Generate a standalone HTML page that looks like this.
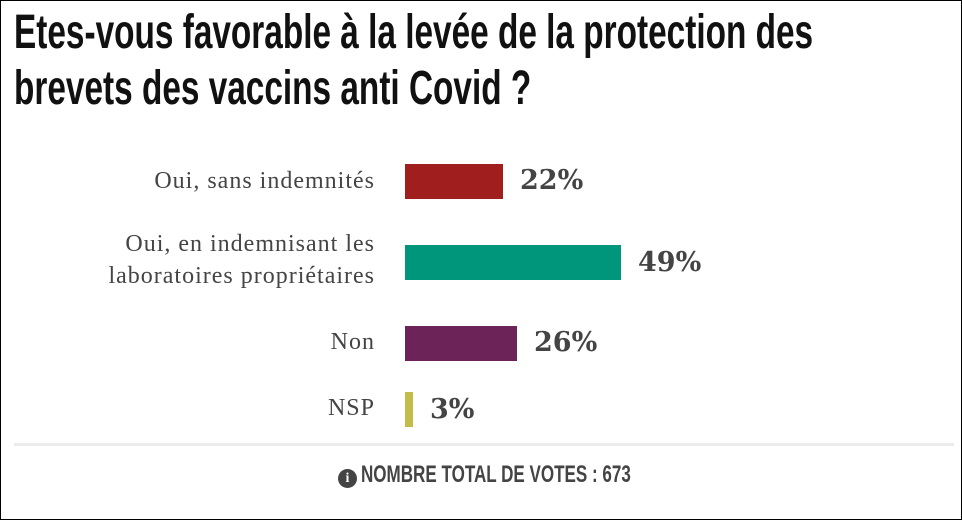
<!DOCTYPE html>
<html><head><meta charset="utf-8"><style>
body{margin:0;width:962px;height:520px;overflow:hidden;background:#fff;}
.frame{position:absolute;left:0;top:0;width:960px;height:518px;border:1px solid #000;}
.t{position:absolute;left:14px;font-family:"Liberation Sans Narrow","Liberation Sans",sans-serif;font-weight:bold;font-size:48px;color:#111;white-space:nowrap;transform-origin:left top;transform:scaleX(0.695);line-height:1;}
.lab{position:absolute;right:587px;font-family:"Liberation Serif",serif;font-size:24px;letter-spacing:1px;color:#444;text-align:right;line-height:32px;white-space:nowrap;}
.bar{position:absolute;left:405px;height:35px;}
.pct{position:absolute;font-family:"DejaVu Serif","Liberation Serif",serif;font-weight:bold;font-size:27px;color:#444;}
.foot{position:absolute;left:338px;top:461px;font-family:"Liberation Sans Narrow","Liberation Sans",sans-serif;font-weight:bold;font-size:24px;color:#444;transform-origin:left top;transform:scaleX(0.71);white-space:nowrap;}
</style></head><body>
<div class="frame"></div>
<div class="t" style="top:9px">Etes-vous favorable à la levée de la protection des</div>
<div class="t" style="top:65px">brevets des vaccins anti Covid ?</div>

<div class="lab" style="top:165px">Oui, sans indemnités</div>
<div class="bar" style="top:164px;width:98px;background:#a01e1e"></div>
<div class="pct" style="left:520px;top:165px">22%</div>

<div class="lab" style="top:228px">Oui, en indemnisant les<br>laboratoires propriétaires</div>
<div class="bar" style="top:245px;width:216px;background:#00967c"></div>
<div class="pct" style="left:638px;top:247px">49%</div>

<div class="lab" style="top:326px">Non</div>
<div class="bar" style="top:326px;width:112px;background:#6b2358"></div>
<div class="pct" style="left:534px;top:327px">26%</div>

<div class="lab" style="top:392px">NSP</div>
<div class="bar" style="top:392px;width:8px;background:#c3bb4a"></div>
<div class="pct" style="left:430px;top:394px">3%</div>

<div style="position:absolute;left:14px;top:443px;width:940px;height:3px;background:#ececec"></div>
<div style="position:absolute;left:338px;top:469px;width:19px;height:19px;border-radius:50%;background:#444;color:#fff;font:bold 14px 'Liberation Serif',serif;text-align:center;line-height:19px">i</div>
<div class="foot" style="left:361px">NOMBRE TOTAL DE VOTES : 673</div>
</body></html>
